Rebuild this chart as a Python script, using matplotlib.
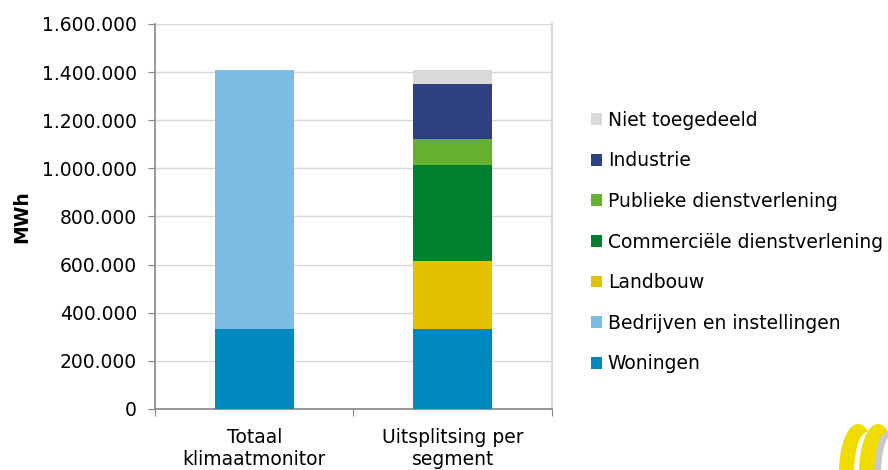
import matplotlib.pyplot as plt
from matplotlib.patches import Ellipse
from matplotlib.ticker import FuncFormatter

# data (MWh)
categories = ["Totaal\nklimaatmonitor", "Uitsplitsing per\nsegment"]
segments = ["Woningen", "Bedrijven en instellingen", "Landbouw",
            "Commerciële dienstverlening", "Publieke dienstverlening",
            "Industrie", "Niet toegedeeld"]
woningen = [332000, 332000]
bedrijven = [1077000, 0]
landbouw = [0, 283000]
commercieel = [0, 399000]
publiek = [0, 108000]
industrie = [0, 229000]
niet_toegedeeld = [0, 58000]

series = [woningen, bedrijven, landbouw, commercieel, publiek, industrie, niet_toegedeeld]
colors = ["#0088C0", "#7DBDE3", "#E2C200", "#007F2D", "#66B22E", "#2E3F82", "#D9D9D9"]

plt.rcParams['font.family'] = ['DejaVu Sans']
FS = 13.5

fig = plt.figure(figsize=(8.88, 4.70), dpi=100)
ax = fig.add_axes([0.1745, 0.1298, 0.4471, 0.8192])

x = range(len(categories))
bottom = [0, 0]
handles = []
for vals, col, name in zip(series, colors, segments):
    b = ax.bar(x, vals, 0.4, bottom=bottom, color=col, label=name, zorder=3)
    handles.append(b)
    bottom = [bo + v for bo, v in zip(bottom, vals)]

ax.set_xlim(-0.5, 1.5)
ax.set_ylim(0, 1600000)
ax.set_yticks(range(0, 1600001, 200000))
ax.yaxis.set_major_formatter(FuncFormatter(lambda v, p: f"{int(v):,}".replace(",", ".")))
ax.grid(axis='y', color='#D9D9D9', linewidth=1, zorder=0)

# category ticks between bars, labels centred under bars
ax.set_xticks([-0.5, 0.5, 1.5])
ax.set_xticklabels([])
ax.set_xticks([0, 1], minor=True)
ax.set_xticklabels(categories, minor=True, fontsize=FS, linespacing=1.2)
ax.tick_params(axis='x', which='major', length=5, color='#868686', direction='out')
ax.tick_params(axis='x', which='minor', length=0, pad=14)
ax.tick_params(axis='y', length=5, color='#868686', labelsize=FS, pad=8)

for s in ['left', 'bottom']:
    ax.spines[s].set_color('#868686')
    ax.spines[s].set_linewidth(1.2)
ax.spines['top'].set_visible(False)
ax.spines['right'].set_color('#D9D9D9')
ax.spines['right'].set_linewidth(1.5)

ax.set_ylabel("MWh", fontsize=FS, fontweight='bold', labelpad=8)

fig.legend(handles[::-1], segments[::-1], loc='upper left',
           bbox_to_anchor=(0.657, 0.78), frameon=False, fontsize=FS,
           handlelength=0.6, handleheight=0.6, handletextpad=0.3,
           labelspacing=1.15, borderaxespad=0)

# logo fragment bottom right (two crescents)
W, H = 888.0, 470.0
def ell(cx, cy, w, h, col):
    fig.patches.append(Ellipse((cx / W, 1 - cy / H), w / W, h / H,
                               transform=fig.transFigure, facecolor=col,
                               edgecolor='none'))
ell(858, 472, 38, 96, '#F0DC00')
ell(867, 474, 26, 84, 'white')
ell(878, 472, 38, 96, '#F0DC00')
ell(887, 474, 26, 84, '#C8C8C8')
ell(891, 476, 20, 80, 'white')

fig.savefig("out.png", dpi=100, facecolor='w')
